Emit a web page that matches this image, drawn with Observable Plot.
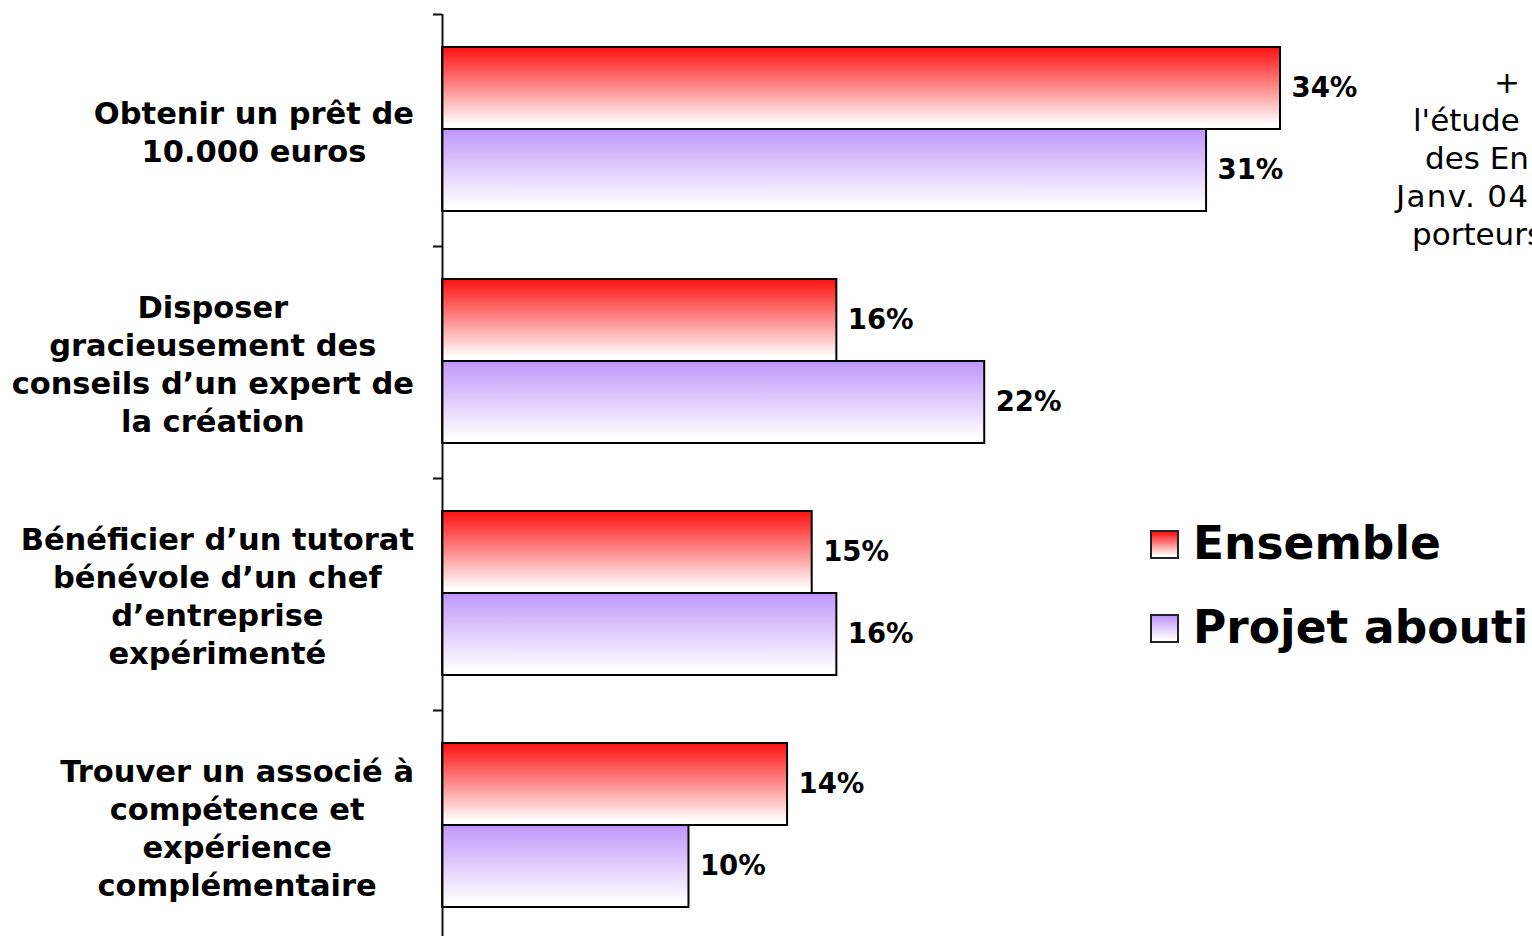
<!DOCTYPE html>
<html>
<head>
<meta charset="utf-8">
<script src="https://cdn.jsdelivr.net/npm/d3@7"></script>
<script src="https://cdn.jsdelivr.net/npm/@observablehq/plot@0.6"></script>
<style>
  html, body { margin: 0; padding: 0; background: #fff; overflow: hidden; width: 1532px; height: 936px; }
  #wrap { position: relative; width: 1532px; height: 936px; overflow: hidden; font-family: "DejaVu Sans", Verdana, sans-serif; }
  #chart svg { display: block; }
  .legend-row { position: absolute; left: 1150px; display: flex; align-items: center; white-space: nowrap; }
  .swatch { width: 25px; height: 25px; border: 2px solid #222; box-sizing: content-box; margin-right: 14px; }
  .legend-text { font-weight: bold; font-size: 45.5px; line-height: 1; }
  .note { position: absolute; font-size: 31px; line-height: 1; white-space: nowrap; }
</style>
</head>
<body>
<div id="wrap">
  <div id="chart"></div>
</div>
<script>
// ---- data ----
const categories = [
  "Obtenir un prêt de\n10.000 euros",
  "Disposer\ngracieusement des\nconseils d’un expert de\nla création",
  "Bénéficier d’un tutorat\nbénévole d’un chef\nd’entreprise\nexpérimenté",
  "Trouver un associé à\ncompétence et\nexpérience\ncomplémentaire"
];
const seriesNames = ["Ensemble", "Projet abouti"];
const ensembleValues = [34, 16, 15, 14];
const aboutiValues = [31, 22, 16, 10];
const noteLines = ["+", "l'étude", "des En", "Janv. 04", "porteurs"];

const data = categories.flatMap((c, i) => [
  {category: c, series: seriesNames[0], value: ensembleValues[i]},
  {category: c, series: seriesNames[1], value: aboutiValues[i]}
]);

const W = 1532, H = 942, MT = 14;
const facetStep = (H - MT) / categories.length;

const chart = Plot.plot({
  width: W,
  height: H,
  marginTop: MT,
  marginBottom: 0,
  marginLeft: 442,
  marginRight: 0,
  style: {fontFamily: "'DejaVu Sans', Verdana, sans-serif", background: "white", color: "black"},
  x: {domain: [0, 34], range: [442, 1280], axis: null},
  y: {domain: seriesNames, paddingInner: 0, paddingOuter: 0.4, align: 0.48, axis: null},
  fy: {domain: categories, padding: 0, axis: null, label: null},
  marks: [
    Plot.barX(data.filter(d => d.series === seriesNames[0]), {
      x: "value", y: "series", fy: "category",
      fill: "url(#gradEnsemble)", stroke: "black", strokeWidth: 2
    }),
    Plot.barX(data.filter(d => d.series === seriesNames[1]), {
      x: "value", y: "series", fy: "category",
      fill: "url(#gradAbouti)", stroke: "black", strokeWidth: 2
    }),
    Plot.ruleX([0], {stroke: "#111", strokeWidth: 2}),
    Plot.axisFy({anchor: "left", label: null, tickSize: 9, tickFormat: () => "", dy: -facetStep / 2, strokeWidth: 2, stroke: "#111"}),
    Plot.text(data, {
      x: "value", y: "series", fy: "category",
      text: d => d.value + "%",
      dx: 11, textAnchor: "start", fontWeight: "bold", fontSize: 27.5, fill: "black"
    }),
    Plot.text(categories, {
      fy: d => d, text: d => d,
      frameAnchor: "left", textAnchor: "middle", dx: -200,
      fontWeight: "bold", fontSize: 30.5, lineHeight: 1.25, fill: "black"
    })
  ]
});

document.getElementById("chart").appendChild(chart);

// gradients
const defs = d3.select(chart).insert("defs", ":first-child");
function grad(id, top) {
  const g = defs.append("linearGradient").attr("id", id)
    .attr("x1", 0).attr("y1", 0).attr("x2", 0).attr("y2", 1);
  g.append("stop").attr("offset", "0%").attr("stop-color", top);
  g.append("stop").attr("offset", "95%").attr("stop-color", "#ffffff");
  g.append("stop").attr("offset", "100%").attr("stop-color", "#ffffff");
}
grad("gradEnsemble", "#ff1010");
grad("gradAbouti", "#c096fa");

// right-align the centered category label blocks against the axis
const rightEdge = 414;
const flatCats = categories.map(c => c.replace(/\n/g, ""));
const svgRect = chart.getBoundingClientRect();
d3.select(chart).selectAll("text").each(function() {
  if (!flatCats.includes(this.textContent.replace(/\n/g, ""))) return;
  const r = this.getBoundingClientRect();
  const right = r.right - svgRect.left;
  const shift = rightEdge - right;
  const t = this.getAttribute("transform") || "";
  this.setAttribute("transform", (t + ` translate(${shift},0)`).trim());
});

// legend
const wrap = document.getElementById("wrap");
const legendColors = {[seriesNames[0]]: "#ff1010", [seriesNames[1]]: "#c096fa"};
seriesNames.forEach((name, i) => {
  const row = document.createElement("div");
  row.className = "legend-row";
  row.style.top = (544 + i * 84 - 25) + "px";
  row.style.height = "50px";
  const sw = document.createElement("div");
  sw.className = "swatch";
  sw.style.background = `linear-gradient(to bottom, ${legendColors[name]}, #ffffff 95%)`;
  const tx = document.createElement("span");
  tx.className = "legend-text";
  tx.textContent = name;
  row.appendChild(sw);
  row.appendChild(tx);
  wrap.appendChild(row);
});

// clipped note at upper right
const noteLeft = [1494, 1413, 1425, 1396, 1412];
const noteSpacing = [0, 0, 0, 1.3, 0];
noteLines.forEach((line, i) => {
  const d = document.createElement("div");
  d.className = "note";
  d.style.left = noteLeft[i] + "px";
  d.style.top = (83 + i * 38 - 16) + "px";
  d.style.letterSpacing = noteSpacing[i] + "px";
  d.textContent = line;
  wrap.appendChild(d);
});
</script>
</body>
</html>
